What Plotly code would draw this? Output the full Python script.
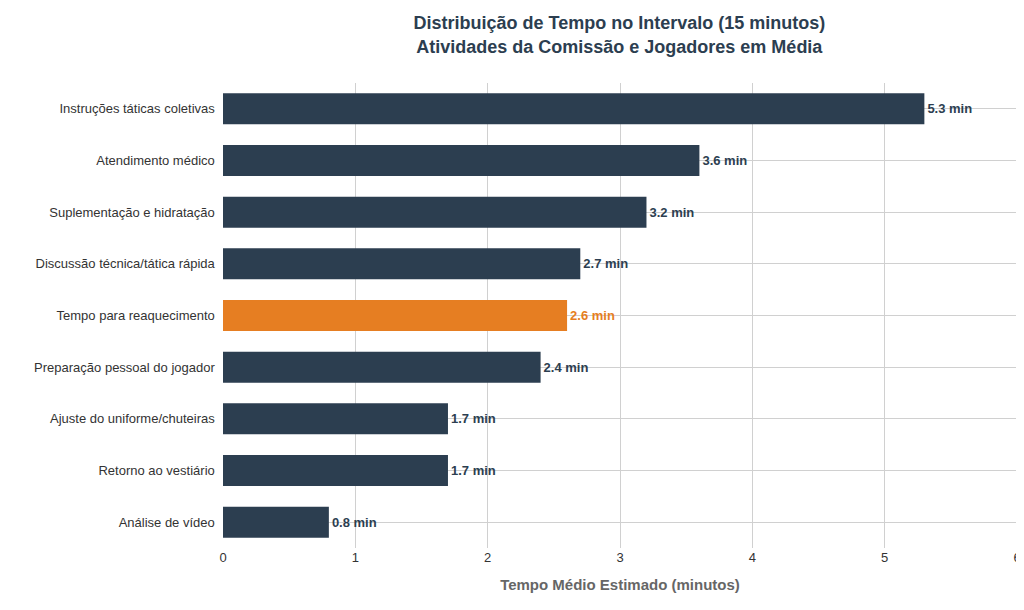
import plotly.graph_objects as go

atividades = ["Instruções táticas coletivas", "Atendimento médico", "Suplementação e hidratação",
              "Discussão técnica/tática rápida", "Tempo para reaquecimento",
              "Preparação pessoal do jogador", "Ajuste do uniforme/chuteiras",
              "Retorno ao vestiário", "Análise de vídeo"]
tempos = [5.3, 3.6, 3.2, 2.7, 2.6, 2.4, 1.7, 1.7, 0.8]
destaque = "Tempo para reaquecimento"

cores = ["#e67e22" if a == destaque else "#2c3e50" for a in atividades]
rotulos = [f"{t} min" for t in tempos]

fig = go.Figure(go.Bar(
    x=tempos, y=atividades, orientation="h",
    marker=dict(color=cores, line=dict(width=0)),
    text=rotulos, textposition="outside",
    textfont=dict(color=cores, size=13, family="Liberation Sans"),
    texttemplate="<b>%{text}</b>", cliponaxis=False, width=0.6,
))

fig.update_layout(
    width=1024, height=610,
    font=dict(family="Liberation Sans, Arial", color="#333333", size=13),
    title=dict(text="<b>Distribuição de Tempo no Intervalo (15 minutos)<br>Atividades da Comissão e Jogadores em Média</b>",
               x=0.597, xanchor="center", y=0.965, font=dict(size=18, color="#2c3e50")),
    plot_bgcolor="white", paper_bgcolor="white",
    margin=dict(l=215, r=15, t=75, b=70),
    showlegend=False,
)
fig.update_xaxes(range=[0, 6], dtick=1, showgrid=True, gridcolor="#d0d0d0", zeroline=False,
                 title=dict(text="<b>Tempo Médio Estimado (minutos)</b>",
                            font=dict(size=15, color="#666666")),
                 tickfont=dict(size=13))
fig.update_yaxes(autorange="reversed", showgrid=True, gridcolor="#d0d0d0",
                 ticks="", ticksuffix="  ", tickfont=dict(size=13))

fig.write_html("out.html")
